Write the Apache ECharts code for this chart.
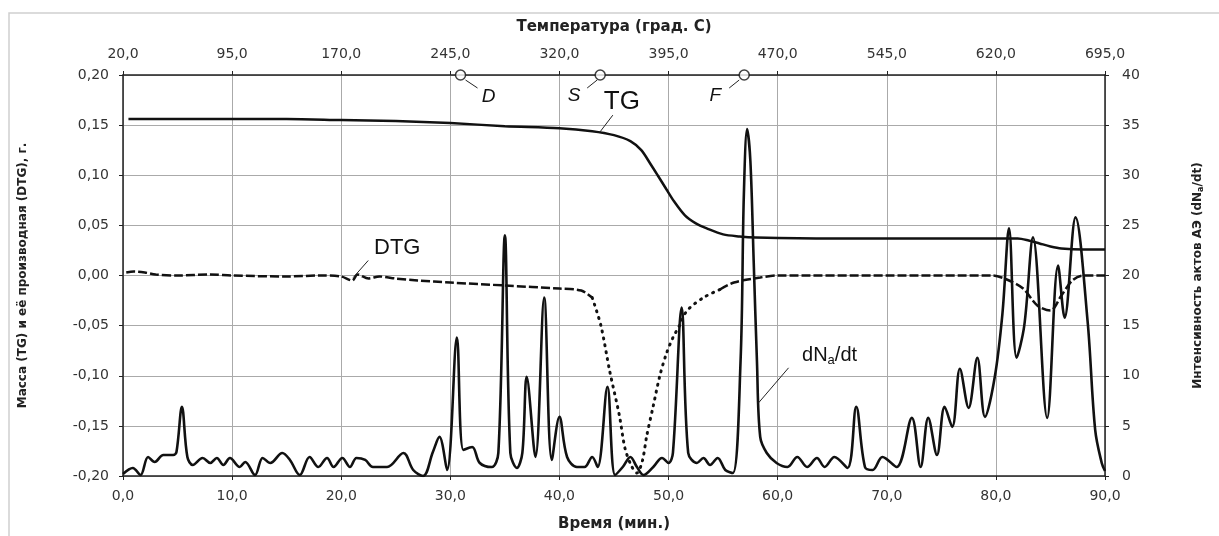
<!DOCTYPE html>
<html>
<head>
<meta charset="utf-8">
<script src="https://cdn.jsdelivr.net/npm/echarts@6/dist/echarts.min.js"></script>
<style>
html, body { margin: 0; padding: 0; background: #fff; }
#tga { width: 1219px; height: 536px; }
</style>
</head>
<body>
<div id="tga"></div>
<script>
// TG: масса образца, г
const tgTime = [0.5, 5, 10, 15, 20, 25, 30, 35, 40, 43, 45, 46.5, 47.5, 48.3, 49, 49.8, 50.5, 51.5, 52.5, 53.5, 55, 56.5, 58, 65, 75, 82, 83, 84, 85, 86, 88, 90];
const tgMass = [0.156, 0.156, 0.156, 0.156, 0.155, 0.154, 0.152, 0.149, 0.147, 0.144, 0.140, 0.134, 0.125, 0.112, 0.100, 0.086, 0.074, 0.060, 0.052, 0.047, 0.041, 0.039, 0.038, 0.037, 0.037, 0.037, 0.035, 0.032, 0.029, 0.027, 0.026, 0.026];

// DTG: производная массы
const dtgTime = [0.3, 1, 2, 3, 5, 8, 10, 15, 18, 20, 21, 21.5, 22.5, 23.5, 25, 27, 30, 35, 40, 42, 43, 43.8, 44.6, 45.5, 46, 46.6, 47.1, 47.6, 48, 48.6, 49.2, 49.8, 50.4, 51, 51.7, 53.2, 54.7, 56, 58.4, 60, 70, 79.7, 81, 82.5, 83.8, 85, 86, 87, 88, 90];
const dtgValue = [0.003, 0.004, 0.003, 0.001, 0.000, 0.001, 0.000, -0.001, 0.000, -0.001, -0.005, 0.001, -0.003, -0.001, -0.003, -0.005, -0.007, -0.010, -0.013, -0.015, -0.022, -0.050, -0.095, -0.140, -0.172, -0.190, -0.197, -0.185, -0.160, -0.130, -0.100, -0.078, -0.062, -0.050, -0.035, -0.022, -0.014, -0.007, -0.002, 0.000, 0.000, 0.000, -0.004, -0.013, -0.030, -0.035, -0.020, -0.005, 0.000, 0.000];
// участок резкого спада DTG рисуется точками
const dtgDip = [43, 54.7];

// dNa/dt: интенсивность актов АЭ
const aeTime = [0.0, 0.9, 1.6, 2.3, 2.9, 3.7, 4.6, 4.9, 5.4, 5.9, 6.4, 7.3, 8.0, 8.6, 9.2, 9.8, 10.7, 11.2, 12.1, 12.8, 13.5, 14.6, 15.3, 16.2, 17.1, 17.9, 18.7, 19.3, 20.1, 20.8, 21.4, 22.2, 22.9, 24.2, 25.7, 26.6, 27.5, 28.4, 29.0, 29.7, 30.6, 31.2, 32.0, 32.7, 33.8, 34.4, 35.0, 35.5, 36.1, 36.6, 37.0, 37.8, 38.6, 39.3, 40.0, 40.7, 41.6, 42.3, 43.0, 43.5, 44.4, 45.1, 45.8, 46.5, 47.1, 47.7, 48.6, 49.4, 50.0, 50.4, 51.2, 51.8, 52.6, 53.2, 53.8, 54.5, 55.2, 55.9, 56.6, 56.9, 57.2, 57.5, 57.8, 58.1, 58.4, 59.0, 59.9, 60.9, 61.8, 62.7, 63.6, 64.3, 65.2, 66.4, 67.2, 68.0, 68.7, 69.6, 70.9, 72.3, 73.1, 73.8, 74.6, 75.3, 76.0, 76.7, 77.5, 78.3, 79.0, 79.9, 80.6, 81.2, 81.9, 82.6, 83.4, 84.7, 85.7, 86.3, 87.3, 88.4, 89.1, 89.7, 90.0];
const aeRate = [0.2, 0.8, 0.1, 1.9, 1.4, 2.1, 2.1, 2.4, 6.9, 1.9, 1.1, 1.8, 1.3, 1.8, 1.1, 1.8, 0.9, 1.4, 0.1, 1.8, 1.3, 2.3, 1.6, 0.1, 1.9, 0.9, 1.8, 0.9, 1.8, 0.9, 1.8, 1.6, 0.9, 0.9, 2.3, 0.6, 0.0, 2.4, 3.9, 0.6, 13.8, 2.6, 2.9, 1.3, 0.9, 2.3, 24.0, 2.3, 0.8, 2.3, 9.9, 1.9, 17.8, 1.6, 5.9, 1.9, 0.9, 0.9, 1.9, 0.9, 8.9, 0.1, 0.9, 1.9, 0.9, 0.1, 0.9, 1.8, 1.3, 2.3, 16.8, 2.3, 1.3, 1.8, 1.1, 1.8, 0.6, 0.3, 11.5, 28.0, 34.6, 31.4, 21.5, 11.5, 3.9, 2.3, 1.3, 0.9, 1.9, 0.9, 1.8, 0.9, 1.9, 0.8, 6.9, 0.9, 0.6, 1.9, 0.9, 5.8, 0.9, 5.8, 2.1, 6.9, 4.9, 10.7, 6.8, 11.8, 5.9, 9.9, 16.2, 24.7, 11.8, 15.0, 23.8, 5.8, 21.0, 15.8, 25.8, 15.5, 4.6, 1.3, 0.5];

// характерные точки на шкале температур
const markNames = ['D', 'S', 'F'];
const markTemp = [252, 348, 447];

const pairs = (xs, ys) => xs.map((x, i) => [x, ys[i]]);
const comma = d => v => v.toFixed(d).replace('.', ',');
// кусок DTG: внутри участка спада или вне его (вне — null, чтобы был разрыв)
const dtgPart = inside => dtgTime.map((t, i) => {
    const isIn = t >= dtgDip[0] && t <= dtgDip[1];
    return isIn === inside || t === dtgDip[0] || t === dtgDip[1] ? [t, dtgValue[i]] : [t, null];
});

const tickFont = { fontFamily: 'DejaVu Sans', fontSize: 14, color: '#333' };
const nameFont = { fontFamily: 'DejaVu Sans', fontWeight: 'bold', fontSize: 15, color: '#222' };
const frame = { onZero: false, lineStyle: { color: '#222', width: 1.5 } };
const tick = { show: true, length: 4, lineStyle: { color: '#222' } };
const grid = { show: true, lineStyle: { color: '#aaa', width: 1 } };

var dom = document.getElementById('tga');
var chart = echarts.init(dom);
var option = {
    animation: false,
    backgroundColor: '#fff',
    grid: { left: 123, right: 114, top: 75, bottom: 60, containLabel: false, outerBoundsMode: 'none' },
    xAxis: [
        {
            type: 'value', position: 'bottom', min: 0, max: 90, interval: 10,
            name: 'Время (мин.)', nameLocation: 'middle', nameGap: 41, nameTextStyle: nameFont,
            axisLine: frame, axisTick: tick, splitLine: grid,
            axisLabel: Object.assign({ formatter: comma(1), margin: 13 }, tickFont)
        },
        {
            type: 'value', position: 'top', min: 20, max: 695, interval: 75,
            name: 'Температура (град. С)', nameLocation: 'middle', nameGap: 40, nameTextStyle: nameFont,
            axisLine: frame, axisTick: tick, splitLine: { show: false },
            axisLabel: Object.assign({ formatter: comma(1), margin: 14 }, tickFont)
        }
    ],
    yAxis: [
        {
            type: 'value', position: 'left', min: -0.2, max: 0.2, interval: 0.05,
            name: 'Масса (TG) и её производная (DTG), г.', nameLocation: 'middle', nameRotate: 90, nameGap: 94,
            nameTextStyle: Object.assign({}, nameFont, { fontSize: 12 }),
            axisLine: frame, axisTick: tick, splitLine: grid,
            axisLabel: Object.assign({ formatter: comma(2), margin: 14 }, tickFont)
        },
        {
            type: 'value', position: 'right', min: 0, max: 40, interval: 5,
            name: 'Интенсивность актов АЭ (dN{s|a}/dt)', nameLocation: 'middle', nameRotate: 90, nameGap: 86,
            nameTextStyle: Object.assign({}, nameFont, { fontSize: 12, rich: { s: { fontFamily: 'DejaVu Sans', fontWeight: 'bold', fontSize: 8, padding: [6, 0, 0, 0] } } }),
            axisLine: frame, axisTick: tick, splitLine: { show: false },
            axisLabel: Object.assign({ margin: 17 }, tickFont)
        }
    ],
    series: [
        {
            name: 'TG', type: 'line', xAxisIndex: 0, yAxisIndex: 0, data: pairs(tgTime, tgMass),
            smooth: 0.3, showSymbol: false, lineStyle: { color: '#111', width: 2.5 }
        },
        {
            name: 'DTG', type: 'line', xAxisIndex: 0, yAxisIndex: 0, data: dtgPart(false),
            smooth: 0.3, showSymbol: false, connectNulls: false,
            lineStyle: { color: '#111', width: 2.5, type: [9, 3] }
        },
        {
            name: 'DTG спад', type: 'line', xAxisIndex: 0, yAxisIndex: 0, data: dtgPart(true),
            smooth: 0.3, showSymbol: false, connectNulls: false,
            lineStyle: { color: '#111', width: 3, type: [1, 6], cap: 'round' }
        },
        {
            name: 'dNa/dt', type: 'line', xAxisIndex: 0, yAxisIndex: 1, data: pairs(aeTime, aeRate),
            smooth: 0.35, showSymbol: false, lineStyle: { color: '#111', width: 2.6 }
        },
        {
            name: 'marks', type: 'scatter', xAxisIndex: 1, yAxisIndex: 0, clip: false, z: 10,
            data: markTemp.map((T, i) => ({ name: markNames[i], value: [T, 0.2] })),
            symbol: 'circle', symbolSize: 10,
            itemStyle: { color: '#fff', borderColor: '#111', borderWidth: 1.5 }
        }
    ]
};
chart.setOption(option);

// подписи кривых с выносками
const px = (xi, yi, p) => chart.convertToPixel({ xAxisIndex: xi, yAxisIndex: yi }, p);
const notes = [
    { text: 'TG', at: px(0, 0, [43.7, 0.143]), lead: [13, -17], pos: [22, -30], font: '26px "Liberation Sans"' },
    { text: 'DTG', at: px(0, 0, [21.1, -0.002]), lead: [15, -17], pos: [44, -30], font: '22px "Liberation Sans"' },
    { text: 'dN{s|a}/dt', at: px(0, 1, [58.25, 7.3]), lead: [30, -35], pos: [71, -47], font: '20px "Liberation Sans"' },
    { text: 'D', at: px(1, 0, [markTemp[0], 0.2]), from: [5, 5], lead: [17, 13], pos: [28, 22], font: 'italic 19px "Liberation Sans"' },
    { text: 'S', at: px(1, 0, [markTemp[1], 0.2]), from: [-3, 5], lead: [-13, 13], pos: [-26, 21], font: 'italic 19px "Liberation Sans"' },
    { text: 'F', at: px(1, 0, [markTemp[2], 0.2]), from: [-5, 5], lead: [-15, 13], pos: [-29, 21], font: 'italic 19px "Liberation Sans"' }
];
const graphic = [
    { type: 'polyline', silent: true, shape: { points: [[9, 600], [9, 13], [1300, 13]] }, style: { stroke: '#cfcfcf', fill: null, lineWidth: 1.5 } }
];
notes.forEach(n => {
    const f = n.from || [0, 0];
    graphic.push({
        type: 'line', silent: true, z: 20,
        shape: { x1: n.at[0] + f[0], y1: n.at[1] + f[1], x2: n.at[0] + n.lead[0], y2: n.at[1] + n.lead[1] },
        style: { stroke: '#222', lineWidth: 1 }
    });
    graphic.push({
        type: 'text', silent: true, z: 20, x: n.at[0] + n.pos[0], y: n.at[1] + n.pos[1],
        style: {
            text: n.text, font: n.font, fill: '#111', align: 'center', verticalAlign: 'middle',
            rich: { s: { font: '13px "Liberation Sans"', padding: [9, 0, 0, 0] } }
        }
    });
});
chart.setOption({ graphic: graphic });
</script>
</body>
</html>
